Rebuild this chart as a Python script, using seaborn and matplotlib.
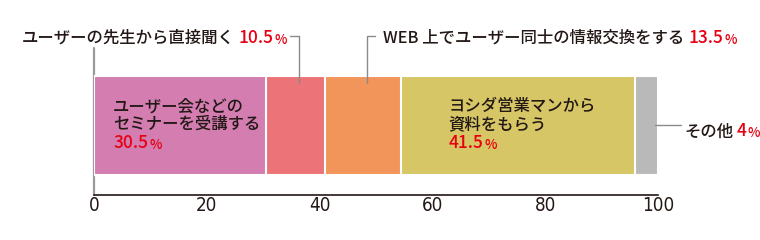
import matplotlib
matplotlib.use("Agg")
import matplotlib.pyplot as plt
import seaborn as sns
import pandas as pd
import numpy as np

# ---- data ----
categories = ["ユーザー会などのセミナーを受講する", "ユーザーの先生から直接聞く",
              "WEB 上でユーザー同士の情報交換をする", "ヨシダ営業マンから資料をもらう", "その他"]
values = [30.5, 10.5, 13.5, 41.5, 4]
colors = ["#D37DB0", "#EC7377", "#F2955A", "#D6C665", "#B9B9B9"]
xticks = [0, 20, 40, 60, 80, 100]

sns.set_theme(style="white")
plt.rcParams['font.family'] = ['Noto Sans CJK JP', 'DejaVu Sans']

fig = plt.figure(figsize=(7.6, 2.4), dpi=100)
ax = fig.add_axes([94/760, 45/240, 564/760, 147/240])

cum = np.cumsum(values)
df = pd.DataFrame({"cat": categories, "val": values, "cum": cum, "row": ["all"] * len(values)})
# draw cumulative bars from largest to smallest so they stack
for i in reversed(range(len(values))):
    sns.barplot(data=df.iloc[[i]], x="cum", y="row", color=colors[i], orient="h", saturation=1,
                width=0.8, edgecolor="white", linewidth=1.5, ax=ax, zorder=2)

ax.set_xlim(0, 100)
ax.set_ylim(0.562, -0.626)
ax.set_xlabel("")
ax.set_ylabel("")
ax.set_yticks([])
ax.set_xticks(xticks)
ax.set_xticklabels([str(t) for t in xticks], family=['Liberation Sans Narrow', 'DejaVu Sans'],
                   fontstretch='condensed', fontsize=13.5, color="#231815")
ax.tick_params(axis="x", length=0, pad=1)
for s in ["top", "right", "left"]:
    ax.spines[s].set_visible(False)
ax.spines["bottom"].set_color("#231815")
ax.spines["bottom"].set_linewidth(1.2)
ax.patch.set_alpha(0)

# left gray guide line
ax.plot([0, 0], [-0.626, 0.562], color="#9a9a9a", lw=1.6, zorder=1, clip_on=False)

dark = "#231815"
red = "#E60012"
fs = 11.8
fsn = 12.5
fsp = 9.5
W = "medium"


def label(x, y, parts):
    """parts: list of (text, color, size)"""
    prev = None
    for txt, col, size in parts:
        if prev is None:
            t = ax.text(x, y, txt, color=col, fontsize=size, va="baseline", ha="left",
                        fontweight=W, clip_on=False, zorder=5)
        else:
            t = ax.annotate(txt, xy=(1, 0), xycoords=prev, xytext=(2.5 if txt[0] != "%" else 0.8, 0),
                            textcoords="offset points", color=col, fontsize=size, fontweight=W,
                            va="bottom", ha="left", annotation_clip=False, zorder=5)
        prev = t


ytop = -0.67
label(-12.8, ytop, [("ユーザーの先生から直接聞く", dark, fs), ("10.5", red, fsn), ("%", red, fsp)])
label(51.3, ytop, [("WEB 上でユーザー同士の情報交換をする", dark, fs), ("13.5", red, fsn), ("%", red, fsp)])
label(104.6, 0.088, [("その他", dark, fs), ("4", red, fsn), ("%", red, fsp)])

# leader lines
lc = "#8a8a8a"
yl = ytop - 0.05
x1 = values[0] + values[1] / 2 + 0.6
ax.plot([34.8, x1, x1], [yl, yl, -0.34], color=lc, lw=1, clip_on=False, zorder=6)
x2 = cum[1] + values[2] / 2 + 0.6
ax.plot([49.8, x2, x2], [yl, yl, -0.34], color=lc, lw=1, clip_on=False, zorder=6)
ax.plot([99.5, 104.0], [0.0, 0.0], color=lc, lw=1, clip_on=False, zorder=6)

# inside labels
for x0, lines, pct in [(3.4, ["ユーザー会などの", "セミナーを受講する"], "30.5"),
                       (62.9, ["ヨシダ営業マンから", "資料をもらう"], "41.5")]:
    ax.text(x0, -0.115, lines[0], color=dark, fontsize=fs, fontweight=W, va="baseline", zorder=5)
    ax.text(x0, 0.03, lines[1], color=dark, fontsize=fs, fontweight=W, va="baseline", zorder=5)
    label(x0, 0.185, [(pct, red, fsn), ("%", red, fsp)])

fig.savefig("out.png", dpi=100)
